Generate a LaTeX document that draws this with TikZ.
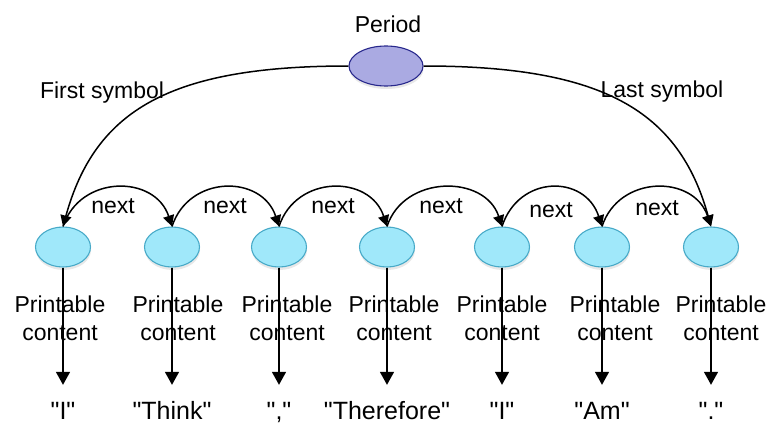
\documentclass[tikz,border=0pt]{standalone}
\usepackage{fontspec}
\setmainfont{Liberation Sans}[Ligatures=TeXOff]
\usetikzlibrary{shapes.geometric,arrows.meta,shadows}
\definecolor{symfill}{RGB}{160,232,250}
\definecolor{symedge}{RGB}{72,170,200}
\definecolor{perfill}{RGB}{170,170,226}
\definecolor{peredge}{RGB}{40,40,140}
\begin{document}
\begin{tikzpicture}[x=1pt,y=-1pt,
  symnode/.style={ellipse, draw=symedge, line width=1.1pt, fill=symfill,
    minimum width=55pt, minimum height=40pt, inner sep=0pt,
    drop shadow={opacity=0.18, shadow xshift=0.5pt, shadow yshift=-3pt}},
  pernode/.style={ellipse, draw=peredge, line width=1.1pt, fill=perfill,
    minimum width=74pt, minimum height=40pt, inner sep=0pt,
    drop shadow={opacity=0.18, shadow xshift=0.5pt, shadow yshift=-3pt}},
  lbl/.style={inner sep=0pt, anchor=base, font=\fontsize{23}{28}\selectfont},
  pclbl/.style={inner sep=0pt, anchor=base, align=center, font=\fontsize{23}{28}\selectfont},
  tgt/.style={inner sep=0pt, anchor=base, text height=18pt, text depth=0pt, font=\fontsize{25}{30}\selectfont},
  narr/.style={line width=1.5pt, -{Triangle[length=11pt,width=11pt]}},
  varr/.style={line width=1.5pt, -{Triangle[length=13pt,width=14pt]}, shorten >=16pt}
]
\useasboundingbox (0,0) rectangle (768,423);

% period
\node[pernode] (P) at (386,66) {};
\node[lbl] (Pl) at (388,32) {Period};

% symbols
\node[symnode] (e1) at (63,247) {};
\node[symnode] (e2) at (172,247) {};
\node[symnode] (e3) at (279,247) {};
\node[symnode] (e4) at (387,247) {};
\node[symnode] (e5) at (502,247) {};
\node[symnode] (e6) at (602,247) {};
\node[symnode] (e7) at (711,247) {};

% labels of big arcs
\node[lbl] (fs) at (102,98) {First symbol};
\node[lbl] (ls) at (662,97) {Last symbol};

% big arcs
\draw[narr] (P.west) .. controls +(-179,0) and +(32,-116) .. (e1.north);
\draw[narr] (P.east) .. controls +(179,0) and +(-32,-116) .. (e7.north);

% next arcs
\draw[narr] (e1.north) .. controls +(17,-52) and +(-17,-52) .. (e2.north);
\draw[narr] (e2.north) .. controls +(17,-52) and +(-17,-52) .. (e3.north);
\draw[narr] (e3.north) .. controls +(17,-52) and +(-17,-52) .. (e4.north);
\draw[narr] (e4.north) .. controls +(17,-52) and +(-17,-52) .. (e5.north);
\draw[narr] (e5.north) .. controls +(17,-52) and +(-17,-52) .. (e6.north);
\draw[narr] (e6.north) .. controls +(17,-52) and +(-17,-52) .. (e7.north);

\node[lbl] (n1) at (113,213) {next};
\node[lbl] (n2) at (225,213) {next};
\node[lbl] (n3) at (333,213) {next};
\node[lbl] (n4) at (441,213) {next};
\node[lbl] (n5) at (551,217) {next};
\node[lbl] (n6) at (657,215) {next};

% printable content labels (base = last line)
\node[pclbl] (c1) at (60,340) {Printable\\content};
\node[pclbl] (c2) at (178,340) {Printable\\content};
\node[pclbl] (c3) at (287,340) {Printable\\content};
\node[pclbl] (c4) at (394,340) {Printable\\content};
\node[pclbl] (c5) at (502,340) {Printable\\content};
\node[pclbl] (c6) at (615,340) {Printable\\content};
\node[pclbl] (c7) at (721,340) {Printable\\content};

% targets
\node[tgt] (t1) at (63,419) {"I"};
\node[tgt] (t2) at (172,419) {"Think"};
\node[tgt] (t3) at (279,419) {","};
\node[tgt] (t4) at (387,419) {"Therefore"};
\node[tgt] (t5) at (502,419) {"I"};
\node[tgt] (t6) at (602,419) {"Am"};
\node[tgt] (t7) at (711,419) {"."};

\draw[varr] (e1) -- (t1);
\draw[varr] (e2) -- (t2);
\draw[varr] (e3) -- (t3);
\draw[varr] (e4) -- (t4);
\draw[varr] (e5) -- (t5);
\draw[varr] (e6) -- (t6);
\draw[varr] (e7) -- (t7);
\end{tikzpicture}
\end{document}
